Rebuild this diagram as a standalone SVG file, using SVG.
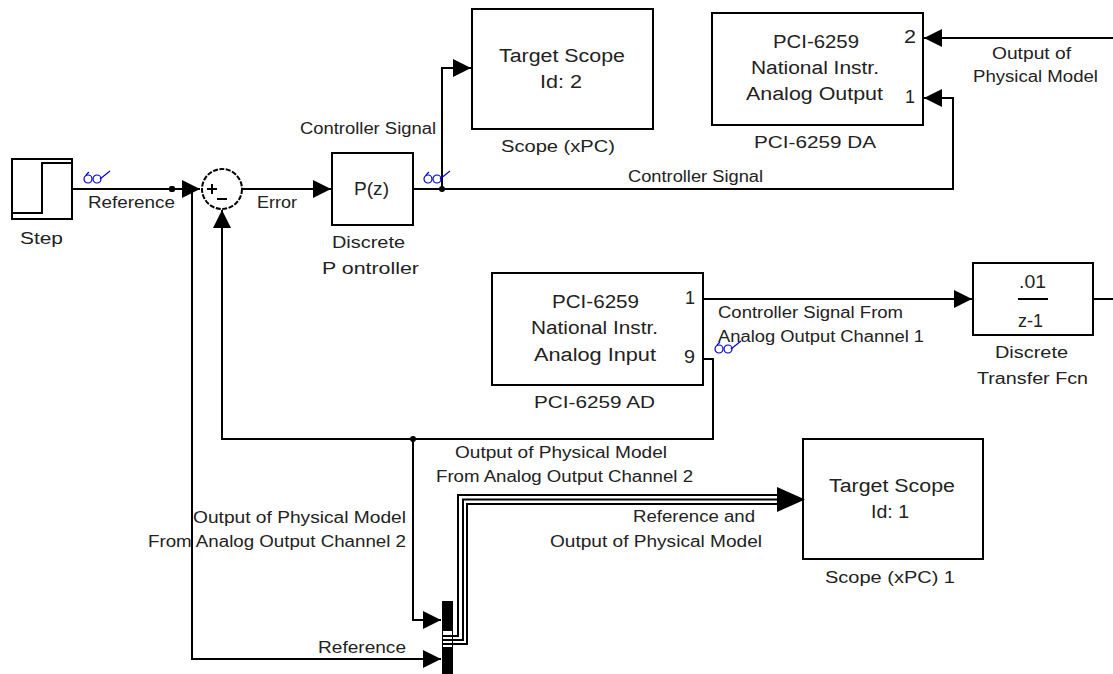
<svg xmlns="http://www.w3.org/2000/svg" width="1113" height="674" viewBox="0 0 1113 674">
<defs>
<marker id="arr" markerUnits="userSpaceOnUse" markerWidth="20" markerHeight="18" refX="18" refY="9" orient="auto"><path d="M0,0L18,9L0,18Z" fill="#000"/></marker>
<g id="glasses" fill="none" stroke="#0000d8" stroke-width="1.2"><circle cx="5" cy="8" r="4"/><circle cx="14" cy="8" r="4"/><path d="M3,4L6,1M17,8L27,0"/></g>
</defs>
<style>
text{font-family:"Liberation Sans",Arial,sans-serif;font-size:16px;fill:#222;text-anchor:start}
.b{fill:#fff;stroke:#000;stroke-width:2}
.l{fill:none;stroke:#000;stroke-width:2}
.big{font-size:18px}
</style>
<rect width="1113" height="674" fill="#fff"/>
<g id="connectors">
<path class="l" d="M72,189H200" marker-end="url(#arr)"/>
<path class="l" d="M243,189H331" marker-end="url(#arr)"/>
<path class="l" d="M413,189H953V98H924" marker-end="url(#arr)"/>
<path class="l" d="M442,189V68H471" marker-end="url(#arr)"/>
<path class="l" d="M1113,38H924" marker-end="url(#arr)"/>
<path class="l" d="M703,299H972" marker-end="url(#arr)"/>
<path class="l" d="M1093,299H1113"/>
<path class="l" d="M703,359H713V439H222V210" marker-end="url(#arr)"/>
<path class="l" d="M413,439V620H441" marker-end="url(#arr)"/>
<path class="l" d="M192,189V659H441" marker-end="url(#arr)"/>
<rect x="169" y="186" width="6" height="6" rx="2"/><circle cx="442" cy="189" r="3"/><circle cx="413" cy="439" r="3"/>
<use href="#glasses" x="83" y="171"/><use href="#glasses" x="423" y="171"/><use href="#glasses" x="714" y="341"/>
</g>
<g id="step"><rect class="b" x="12" y="159" width="60" height="60"/><path class="l" d="M12,213H42V163H72"/><text x="20" y="244" textLength="43" lengthAdjust="spacingAndGlyphs">Step</text></g>
<g id="sum"><circle cx="222" cy="189" r="20" fill="#fff" stroke="#000" stroke-width="2" stroke-dasharray="5 1.5"/><path class="l" d="M207,189H217M212,184V194M217,199H227"/></g>
<g id="controller"><rect class="b" x="332" y="153" width="81" height="72"/><text class="big" x="354" y="195" textLength="35" lengthAdjust="spacingAndGlyphs">P(z)</text><text x="332" y="248" textLength="73" lengthAdjust="spacingAndGlyphs">Discrete</text><text x="322" y="274" textLength="97" lengthAdjust="spacingAndGlyphs">P ontroller</text></g>
<g id="scope2"><rect class="b" x="472" y="9" width="181" height="120"/><text class="big" x="499" y="62" textLength="126" lengthAdjust="spacingAndGlyphs">Target Scope</text><text class="big" x="540" y="88" textLength="42" lengthAdjust="spacingAndGlyphs">Id: 2</text><text x="501" y="152" textLength="114" lengthAdjust="spacingAndGlyphs">Scope (xPC)</text></g>
<g id="da"><rect class="b" x="712" y="13" width="211" height="112"/><text class="big" x="773" y="48" textLength="86" lengthAdjust="spacingAndGlyphs">PCI-6259</text><text class="big" x="751" y="74" textLength="128" lengthAdjust="spacingAndGlyphs">National Instr.</text><text class="big" x="746" y="100" textLength="137" lengthAdjust="spacingAndGlyphs">Analog Output</text><text class="big" x="904" y="43" textLength="12" lengthAdjust="spacingAndGlyphs">2</text><text class="big" x="905" y="103" textLength="10" lengthAdjust="spacingAndGlyphs">1</text><text x="754" y="148" textLength="122" lengthAdjust="spacingAndGlyphs">PCI-6259 DA</text></g>
<g id="ad"><rect class="b" x="492" y="273" width="211" height="112"/><text class="big" x="552" y="308" textLength="87" lengthAdjust="spacingAndGlyphs">PCI-6259</text><text class="big" x="531" y="334" textLength="127" lengthAdjust="spacingAndGlyphs">National Instr.</text><text class="big" x="534" y="361" textLength="122" lengthAdjust="spacingAndGlyphs">Analog Input</text><text class="big" x="685" y="304" textLength="10" lengthAdjust="spacingAndGlyphs">1</text><text class="big" x="684" y="363" textLength="11" lengthAdjust="spacingAndGlyphs">9</text><text x="534" y="408" textLength="121" lengthAdjust="spacingAndGlyphs">PCI-6259 AD</text></g>
<g id="tf"><rect class="b" x="973" y="263" width="120" height="72"/><text class="big" x="1019" y="288" textLength="27" lengthAdjust="spacingAndGlyphs">.01</text><path class="l" d="M1018,299H1048"/><text class="big" x="1018" y="327" textLength="25" lengthAdjust="spacingAndGlyphs">z-1</text><text x="995" y="358" textLength="73" lengthAdjust="spacingAndGlyphs">Discrete</text><text x="977" y="384" textLength="111" lengthAdjust="spacingAndGlyphs">Transfer Fcn</text></g>
<g id="scope1"><rect class="b" x="803" y="439" width="180" height="120"/><text class="big" x="829" y="492" textLength="126" lengthAdjust="spacingAndGlyphs">Target Scope</text><text class="big" x="871" y="518" textLength="38" lengthAdjust="spacingAndGlyphs">Id: 1</text><text x="825" y="583" textLength="130" lengthAdjust="spacingAndGlyphs">Scope (xPC) 1</text></g>
<g id="mux"><rect x="442" y="601" width="11" height="73" fill="#000"/><rect x="443" y="631" width="9" height="16" fill="#fff"/><path fill="none" stroke="#000" stroke-width="2" d="M443,636H458V495H780M443,640H463V499.500H780M443,644H467V504H780"/><path d="M777,487L805,499.500L777,512Z" fill="#000"/></g>
<g id="labels">
<text x="88" y="208" textLength="87" lengthAdjust="spacingAndGlyphs">Reference</text><text x="257" y="208" textLength="40" lengthAdjust="spacingAndGlyphs">Error</text><text x="300" y="134" textLength="136" lengthAdjust="spacingAndGlyphs">Controller Signal</text><text x="628" y="182" textLength="135" lengthAdjust="spacingAndGlyphs">Controller Signal</text>
<text x="992" y="59" textLength="79" lengthAdjust="spacingAndGlyphs">Output of</text><text x="973" y="82" textLength="125" lengthAdjust="spacingAndGlyphs">Physical Model</text>
<text x="718" y="318" textLength="185" lengthAdjust="spacingAndGlyphs">Controller Signal From</text><text x="718" y="342" textLength="206" lengthAdjust="spacingAndGlyphs">Analog Output Channel 1</text>
<text x="455" y="458" textLength="212" lengthAdjust="spacingAndGlyphs">Output of Physical Model</text><text x="436" y="482" textLength="257" lengthAdjust="spacingAndGlyphs">From Analog Output Channel 2</text>
<text x="193" y="523" textLength="213" lengthAdjust="spacingAndGlyphs">Output of Physical Model</text><text x="148" y="547" textLength="258" lengthAdjust="spacingAndGlyphs">From Analog Output Channel 2</text>
<text x="633" y="522" textLength="122" lengthAdjust="spacingAndGlyphs">Reference and</text><text x="550" y="547" textLength="212" lengthAdjust="spacingAndGlyphs">Output of Physical Model</text>
<text x="318" y="653" textLength="88" lengthAdjust="spacingAndGlyphs">Reference</text>
</g>
</svg>
